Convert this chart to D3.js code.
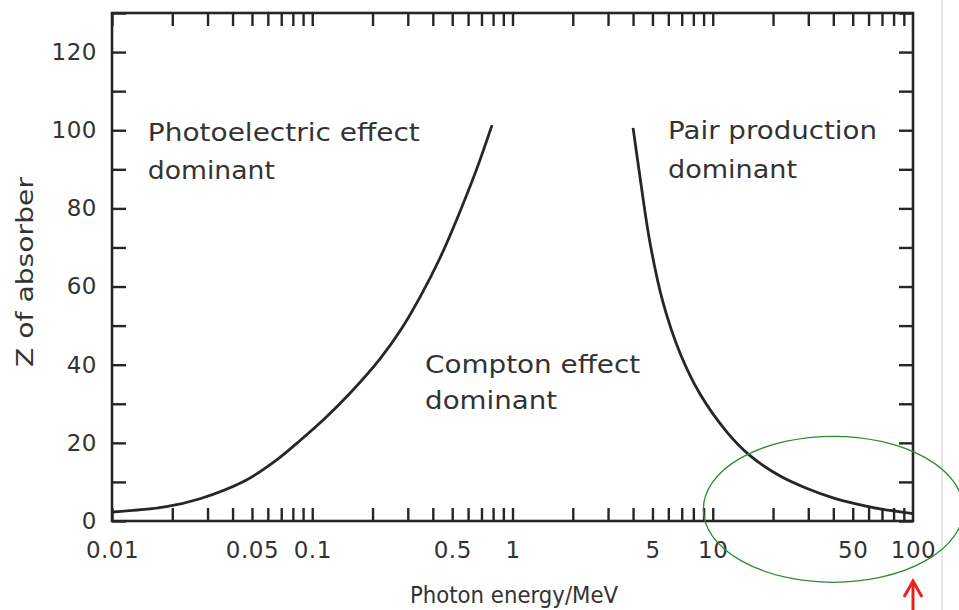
<!DOCTYPE html>
<html lang="en">
<head>
  <meta charset="UTF-8" />
  <title>Photon interactions</title>
  <script src="https://cdn.jsdelivr.net/npm/d3@7"></script>
  <style>
    body { margin: 0; background: #fff; }
    svg text { font-family: "DejaVu Sans", Arial, sans-serif; fill: #333; }
  </style>
</head>
<body>
<script>
  const width = 959;
  const height = 610;

  // boundary curves (photon energy in MeV, Z)
  const photoE = [0.01, 0.0184, 0.0275, 0.0462, 0.0652, 0.0869, 0.1158, 0.1543, 0.218, 0.2743, 0.3452, 0.4344, 0.528, 0.665, 0.79];
  const photoZ = [2.3, 3.6, 5.7, 10.3, 15.3, 20.6, 26.3, 32.7, 41.5, 48.6, 57.3, 67.3, 77.3, 90.3, 101.3];
  const pairE = [4.0, 4.33, 4.86, 5.64, 6.86, 8.64, 11.8, 15.3, 21.7, 29.6, 39.9, 52.5, 68.4, 100];
  const pairZ = [100.6, 88.1, 71.2, 56.0, 43.0, 32.5, 22.7, 16.8, 11.5, 8.3, 5.9, 4.3, 3.1, 1.9];

  // tick labels
  const xLabels = [0.01, 0.05, 0.1, 0.5, 1, 5, 10, 50, 100];
  const yLabels = [0, 20, 40, 60, 80, 100, 120];

  const x = d3.scaleLog().domain([0.01, 100]).range([112, 913]);
  const y = d3.scaleLinear().domain([0, 130]).range([521, 13]);

  // minor ticks: 1..9 in each decade
  const xTicks = [];
  [0.01, 0.1, 1, 10].forEach(d => { for (let k = 1; k <= 9; k++) xTicks.push(d * k); });
  const yTicks = d3.range(0, 131, 10);

  const svg = d3.select('body').append('svg')
    .attr('width', width)
    .attr('height', height);

  // edge of the screenshot
  svg.append('line')
    .attr('x1', 942).attr('x2', 942).attr('y1', 0).attr('y2', height)
    .attr('stroke', '#dcdcdc').attr('stroke-width', 1.5);

  const ink = '#262626';

  function tidy(g) {
    g.select('.domain').remove();
    g.selectAll('.tick line').attr('stroke', ink).attr('stroke-width', 2.4);
  }

  // ticks on all four sides, pointing inward
  svg.append('g').attr('transform', `translate(0,${y(0)})`)
    .call(d3.axisBottom(x).tickValues(xTicks).tickSize(-13).tickFormat(''))
    .call(tidy);
  svg.append('g').attr('transform', `translate(0,${y(130)})`)
    .call(d3.axisTop(x).tickValues(xTicks).tickSize(-13).tickFormat(''))
    .call(tidy);
  svg.append('g').attr('transform', `translate(${x(0.01)},0)`)
    .call(d3.axisLeft(y).tickValues(yTicks).tickSize(-14).tickFormat(''))
    .call(tidy);
  svg.append('g').attr('transform', `translate(${x(100)},0)`)
    .call(d3.axisRight(y).tickValues(yTicks).tickSize(-14).tickFormat(''))
    .call(tidy);

  // tick labels
  const xl = svg.append('g').attr('transform', `translate(0,${y(0)})`)
    .call(d3.axisBottom(x).tickValues(xLabels).tickSize(0).tickPadding(21).tickFormat(d => String(d)));
  xl.select('.domain').remove();
  xl.selectAll('text').style('font-size', '23px').style('letter-spacing', '0.5px')
    .style('font-family', '"DejaVu Sans", Arial, sans-serif').attr('fill', '#333');

  const yl = svg.append('g').attr('transform', `translate(${x(0.01)},0)`)
    .call(d3.axisLeft(y).tickValues(yLabels).tickSize(0).tickPadding(15));
  yl.select('.domain').remove();
  yl.selectAll('text').style('font-size', '23px').style('letter-spacing', '0.5px')
    .style('font-family', '"DejaVu Sans", Arial, sans-serif').attr('fill', '#333');

  // frame
  svg.append('rect')
    .attr('x', x(0.01)).attr('y', y(130))
    .attr('width', x(100) - x(0.01)).attr('height', y(0) - y(130))
    .attr('fill', 'none').attr('stroke', ink).attr('stroke-width', 2.6);

  // curves
  const line = d3.line().x(d => x(d[0])).y(d => y(d[1])).curve(d3.curveCatmullRom.alpha(0.5));
  svg.append('path')
    .attr('d', line(d3.zip(photoE, photoZ)))
    .attr('fill', 'none').attr('stroke', ink).attr('stroke-width', 2.8);
  svg.append('path')
    .attr('d', line(d3.zip(pairE, pairZ)))
    .attr('fill', 'none').attr('stroke', ink).attr('stroke-width', 2.8);

  // region labels
  const notes = [
    { t: 'Photoelectric effect', e: 0.0151, z: 97.2, w: 272 },
    { t: 'dominant', e: 0.0151, z: 87.4, w: 127 },
    { t: 'Pair production', e: 5.98, z: 97.7, w: 209 },
    { t: 'dominant', e: 5.98, z: 87.9, w: 129 },
    { t: 'Compton effect', e: 0.366, z: 37.9, w: 215 },
    { t: 'dominant', e: 0.366, z: 28.6, w: 132 }
  ];
  svg.selectAll('text.note').data(notes).join('text')
    .attr('class', 'note')
    .attr('x', d => x(d.e)).attr('y', d => y(d.z))
    .attr('textLength', d => d.w).attr('lengthAdjust', 'spacingAndGlyphs')
    .style('font-size', '24px')
    .text(d => d.t);

  // axis titles
  svg.append('text')
    .attr('x', 514).attr('y', 603)
    .attr('text-anchor', 'middle')
    .attr('textLength', 208).attr('lengthAdjust', 'spacingAndGlyphs')
    .style('font-size', '23px')
    .text('Photon energy/MeV');
  svg.append('text')
    .attr('transform', 'translate(33,272) rotate(-90)')
    .attr('text-anchor', 'middle')
    .attr('textLength', 190).attr('lengthAdjust', 'spacingAndGlyphs')
    .style('font-size', '23px')
    .text('Z of absorber');

  // markup on the picture: green ellipse and red arrow
  svg.append('ellipse')
    .attr('cx', x(40)).attr('cy', y(3))
    .attr('rx', 130).attr('ry', 73)
    .attr('fill', 'none').attr('stroke', '#2e8b2e').attr('stroke-width', 1.3);

  const ax = x(100);
  svg.append('line')
    .attr('x1', ax).attr('x2', ax).attr('y1', 582).attr('y2', height)
    .attr('stroke', '#e82218').attr('stroke-width', 3);
  svg.append('path')
    .attr('d', `M${ax - 9},597 L${ax},581 L${ax + 9},597`)
    .attr('fill', 'none').attr('stroke', '#e82218').attr('stroke-width', 3)
    .attr('stroke-linejoin', 'miter');
</script>
</body>
</html>
